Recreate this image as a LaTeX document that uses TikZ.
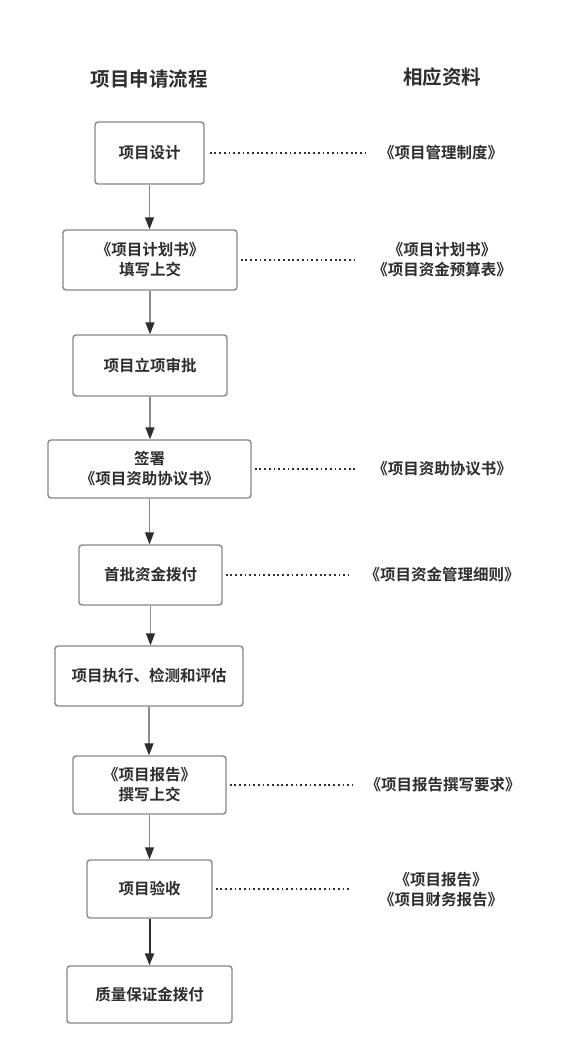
\documentclass[tikz,border=0pt]{standalone}
\usepackage{fontspec}
\newfontfamily\cjkb{Noto Sans CJK SC Bold}
\usetikzlibrary{arrows.meta}
\definecolor{txt}{HTML}{2E2E2E}
\definecolor{brd}{HTML}{888888}
\definecolor{shaft}{HTML}{8A8A8A}
\tikzset{
  stepbox/.style={draw=brd, line width=1.4pt, rounded corners=3pt, fill=white, align=center, text=txt, font=\cjkb\fontsize{15.5}{20}\selectfont, inner sep=0pt},
  doc/.style={align=center, text=txt, font=\cjkb\fontsize{15.5}{20}\selectfont, inner sep=0pt},
  head/.style={text=txt, font=\cjkb\fontsize{19.5}{22}\selectfont, inner sep=0pt},
  flow/.style={draw=shaft, line width=1.4pt, -{Triangle[width=9pt,length=12pt,color=txt]}},
  flowdark/.style={draw=txt, line width=2pt, -{Triangle[width=9pt,length=12pt,color=txt]}},
  link/.style={draw=txt, line width=1.8pt, dash pattern=on 1.8pt off 2.9pt}
}
\begin{document}
\begin{tikzpicture}[x=1pt,y=-1pt]
\useasboundingbox (0,0) rectangle (568,1055);
\fill[white] (0,0) rectangle (568,1055);
\node[head] (h1) at (149,79) {项目申请流程};
\node[head] (h2) at (442,77) {相应资料};
% boxes
\node[stepbox, minimum width=109pt, minimum height=62pt] (b1) at (149.5,153) {项目设计};
\node[stepbox, minimum width=174pt, minimum height=60pt] (b2) at (150,260) {《项目计划书》\\填写上交};
\node[stepbox, minimum width=154pt, minimum height=61pt] (b3) at (150,365.5) {项目立项审批};
\node[stepbox, minimum width=203pt, minimum height=58pt] (b4) at (149.5,469) {签署\\《项目资助协议书》};
\node[stepbox, minimum width=143pt, minimum height=60pt] (b5) at (150.5,575) {首批资金拨付};
\node[stepbox, minimum width=188pt, minimum height=60pt] (b6) at (149,676) {项目执行、检测和评估};
\node[stepbox, minimum width=153pt, minimum height=58pt] (b7) at (149.5,785) {《项目报告》\\撰写上交};
\node[stepbox, minimum width=125pt, minimum height=58pt] (b8) at (149.5,889) {项目验收};
\node[stepbox, minimum width=165pt, minimum height=57pt] (b9) at (149.5,994.5) {质量保证金拨付};
% docs
\node[doc] (d1) at (441,153) {《项目管理制度》};
\node[doc] (d2) at (442,260) {《项目计划书》\\《项目资金预算表》};
\node[doc] (d4) at (442,469) {《项目资助协议书》};
\node[doc] (d5) at (442,575) {《项目资金管理细则》};
\node[doc] (d7) at (443,785) {《项目报告撰写要求》};
\node[doc] (d8) at (441,889.5) {《项目报告》\\《项目财务报告》};
% arrows
\draw[flow] (b1.south) -- (b1.south |- b2.north);
\draw[flow] (b2.south) -- (b2.south |- b3.north);
\draw[flow] (b3.south) -- (b3.south |- b4.north);
\draw[flow] (b4.south) -- (b4.south |- b5.north);
\draw[flow] (b5.south) -- (b5.south |- b6.north);
\draw[flow] (b6.south) -- (b6.south |- b7.north);
\draw[flow] (b7.south) -- (b7.south |- b8.north);
\draw[flowdark] (b8.south) -- (b8.south |- b9.north);
% dotted links
\coordinate (e1) at (365,153);
\coordinate (e2) at (358,260);
\coordinate (e4) at (358,469);
\coordinate (e5) at (348,575);
\coordinate (e7) at (353,785);
\coordinate (e8) at (350,889);
\draw[link] ([xshift=5pt]b1.east) -- (e1);
\draw[link] ([xshift=3pt]b2.east) -- (e2);
\draw[link] ([xshift=3pt]b4.east) -- (e4);
\draw[link] ([xshift=3pt]b5.east) -- (e5);
\draw[link] ([xshift=3pt]b7.east) -- (e7);
\draw[link] ([xshift=3pt]b8.east) -- (e8);
\end{tikzpicture}
\end{document}
